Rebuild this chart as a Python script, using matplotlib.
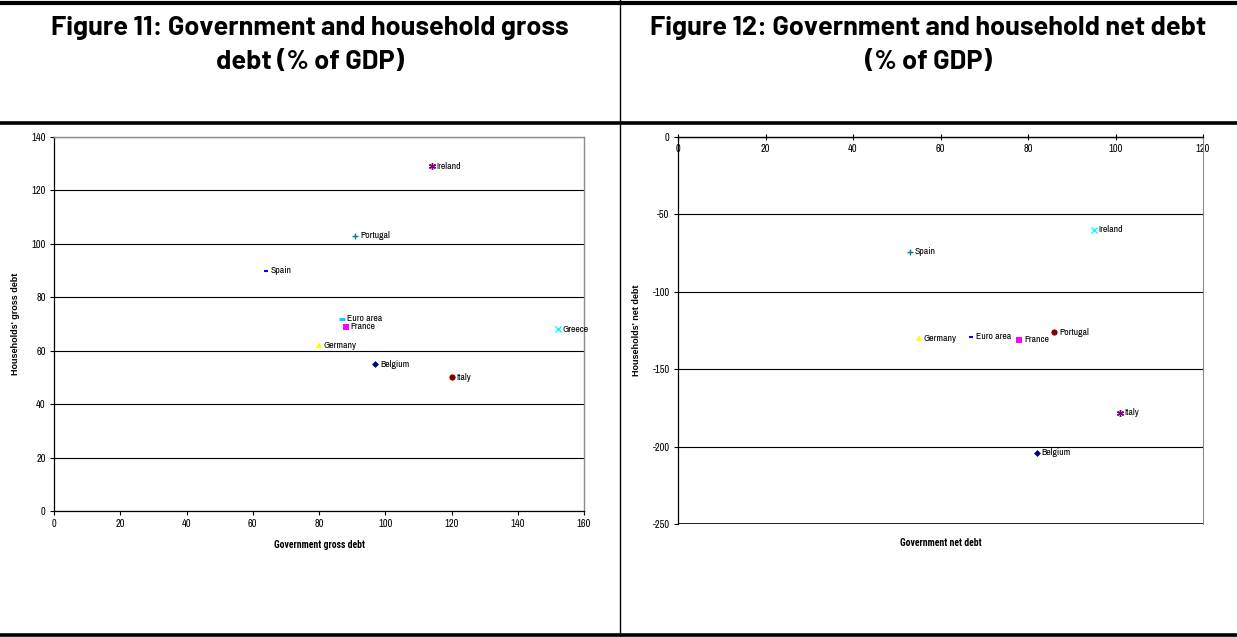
import matplotlib
matplotlib.use("Agg")
import matplotlib.pyplot as plt
from matplotlib.lines import Line2D

# --- data -------------------------------------------------------------------
gross_countries = ["Ireland", "Portugal", "Spain", "Euro area", "France",
                   "Germany", "Greece", "Belgium", "Italy"]
gross_gov = [114, 91, 64, 87, 88, 80, 152, 97, 120]
gross_hh = [129, 103, 90, 72, 69, 62, 68, 55, 50]

net_countries = ["Ireland", "Spain", "Germany", "Euro area", "France",
                 "Portugal", "Italy", "Belgium"]
net_gov = [95, 53, 55, 67, 78, 86, 101, 82]
net_hh = [-60, -74, -130, -129, -131, -126, -178, -204]

gross_xticks = [0, 20, 40, 60, 80, 100, 120, 140, 160]
gross_yticks = [0, 20, 40, 60, 80, 100, 120, 140]
net_xticks = [0, 20, 40, 60, 80, 100, 120]
net_yticks = [0, -50, -100, -150, -200, -250]

# marker style per country (Excel default series look)
STAR = (6, 2, 0)
style_gross = {
    "Ireland": dict(marker=STAR, color="#800080", ms=5, mew=1.0),
    "Portugal": dict(marker="+", color="#008080", ms=5, mew=1.0),
    "Spain": dict(marker="_", color="#0000FF", ms=3, mew=1.5),
    "Euro area": dict(marker="_", color="#00CCFF", ms=5, mew=2.0),
    "France": dict(marker="s", color="#FF00FF", ms=4.5, mew=0),
    "Germany": dict(marker="^", color="#FFFF00", ms=5, mew=0),
    "Greece": dict(marker="x", color="#00FFFF", ms=5, mew=1.0),
    "Belgium": dict(marker="D", color="#000080", ms=3.5, mew=0),
    "Italy": dict(marker="o", color="#800000", ms=4.5, mew=0),
}
style_net = {
    "Ireland": dict(marker="x", color="#00FFFF", ms=5, mew=1.0),
    "Spain": dict(marker="+", color="#008080", ms=5, mew=1.0),
    "Germany": dict(marker="^", color="#FFFF00", ms=5, mew=0),
    "Euro area": dict(marker="_", color="#0000FF", ms=3, mew=1.5),
    "France": dict(marker="s", color="#FF00FF", ms=4.5, mew=0),
    "Portugal": dict(marker="o", color="#800000", ms=4.5, mew=0),
    "Italy": dict(marker=STAR, color="#800080", ms=5, mew=1.0),
    "Belgium": dict(marker="D", color="#000080", ms=3.5, mew=0),
}

NARROW = ["Archivo Narrow", "Roboto Condensed", "Liberation Sans", "DejaVu Sans"]
NARROW_BOLD = ["Roboto Condensed", "PT Sans Narrow", "Liberation Sans", "DejaVu Sans"]
TITLE = ["Barlow", "Roboto Condensed", "Liberation Sans", "DejaVu Sans"]
ARIAL = ["Liberation Sans", "DejaVu Sans"]
plt.rcParams["font.family"] = NARROW
plt.rcParams["axes.unicode_minus"] = False

fig = plt.figure(figsize=(12.37, 6.37), dpi=100)

# --- frame lines of the document table -------------------------------------
def hline(y, lw):
    fig.add_artist(Line2D([0, 1], [1 - y / 637, 1 - y / 637], color="black",
                          lw=lw, transform=fig.transFigure))

hline(2.5, 3.0)
hline(123, 2.6)
hline(634.5, 2.6)
fig.add_artist(Line2D([620 / 1237, 620 / 1237], [0, 1], color="black",
                      lw=1.0, transform=fig.transFigure))

title_kw = dict(fontsize=19.5, fontweight="bold", ha="center", va="center",
                family=TITLE)
fig.text(310 / 1237, 1 - 28 / 637, "Figure 11: Government and household gross", **title_kw)
fig.text(310 / 1237, 1 - 62 / 637, "debt (% of GDP)", **title_kw)
fig.text(928 / 1237, 1 - 28 / 637, "Figure 12: Government and household net debt", **title_kw)
fig.text(928 / 1237, 1 - 62 / 637, "(% of GDP)", **title_kw)


def scatter_panel(ax, names, xs, ys, styles):
    for name, x, y in zip(names, xs, ys):
        st = styles[name]
        ax.plot([x], [y], linestyle="none", marker=st["marker"],
                color=st["color"], markersize=st["ms"],
                markeredgewidth=st["mew"], zorder=4, clip_on=False)
        ax.annotate(name, (x, y), xytext=(3.5, 0), textcoords="offset points",
                    fontsize=7, va="center", ha="left", zorder=5,
                    annotation_clip=False)


# --- Figure 11: gross debt --------------------------------------------------
ax1 = fig.add_axes([54 / 1237, 1 - 511 / 637, 530 / 1237, 374 / 637])
scatter_panel(ax1, gross_countries, gross_gov, gross_hh, style_gross)
ax1.set_xlim(0, 160)
ax1.set_ylim(0, 140)
ax1.set_xticks(gross_xticks)
ax1.set_yticks(gross_yticks)
ax1.yaxis.grid(True, color="black", lw=0.8)
ax1.set_axisbelow(True)
for s in ["top", "right"]:
    ax1.spines[s].set_color("#8c8c8c")
    ax1.spines[s].set_linewidth(1.0)
for s in ["left", "bottom"]:
    ax1.spines[s].set_linewidth(0.9)
ax1.tick_params(labelsize=7.5, length=3, width=0.8, pad=3)
ax1.set_xlabel("Government gross debt", fontsize=7, fontweight="bold",
               labelpad=8, family=NARROW_BOLD)
ax1.set_ylabel("Households' gross debt", fontsize=6.5, fontweight="bold",
               labelpad=8, family=ARIAL)

# --- Figure 12: net debt ----------------------------------------------------
ax2 = fig.add_axes([678 / 1237, 1 - 524 / 637, 525 / 1237, 387 / 637])
scatter_panel(ax2, net_countries, net_gov, net_hh, style_net)
ax2.set_xlim(0, 120)
ax2.set_ylim(-250, 0)
ax2.set_xticks(net_xticks)
ax2.set_yticks(net_yticks)
ax2.yaxis.grid(True, color="black", lw=0.8)
ax2.set_axisbelow(True)
ax2.spines["bottom"].set_position(("data", 0))
ax2.spines["bottom"].set_linewidth(1.0)
ax2.spines["top"].set_visible(False)
ax2.spines["right"].set_color("#8c8c8c")
ax2.spines["left"].set_linewidth(0.9)
ax2.axhline(-250, color="black", lw=1.2, zorder=3)
ax2.tick_params(axis="x", direction="inout", length=4, width=0.8, labelsize=7.5, pad=3)
ax2.tick_params(axis="y", length=3, width=0.8, labelsize=7.5, pad=3)
ax2.text(0.5, -0.035, "Government net debt", transform=ax2.transAxes,
         fontsize=7, fontweight="bold", ha="center", va="top", family=NARROW_BOLD)
ax2.set_ylabel("Households' net debt", fontsize=6.5, fontweight="bold",
               labelpad=8, family=ARIAL)

fig.savefig("out.png", dpi=100)
